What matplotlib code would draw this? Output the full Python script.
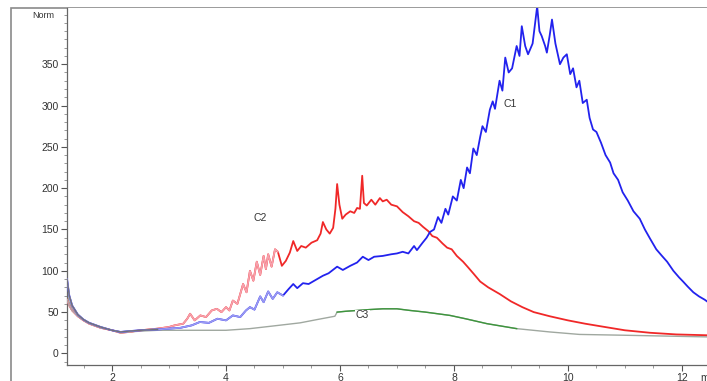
import numpy as np
import matplotlib
matplotlib.use('Agg')
import matplotlib.pyplot as plt
from matplotlib.patches import Rectangle
from matplotlib.ticker import MultipleLocator

plt.rcParams['font.family'] = ['Liberation Sans', 'DejaVu Sans']

# retention time (min) / normalised signal
c1_time = [1.21, 1.25, 1.3, 1.4, 1.5, 1.6, 1.8, 2.0, 2.15, 2.3, 2.5, 2.8, 3.0, 3.2, 3.4,
           3.54, 3.7, 3.85, 4.0, 4.12, 4.25, 4.35, 4.42, 4.5, 4.6, 4.66, 4.74, 4.82, 4.9,
           5.0, 5.1, 5.18, 5.25, 5.35, 5.45, 5.6, 5.7, 5.8, 5.95, 6.05, 6.18, 6.3, 6.4,
           6.5, 6.6, 6.75, 6.9, 7.0, 7.1, 7.2, 7.3, 7.35, 7.45, 7.52, 7.58, 7.65, 7.72,
           7.78, 7.85, 7.9, 7.98, 8.05, 8.12, 8.17, 8.23, 8.28, 8.34, 8.4, 8.46, 8.5,
           8.56, 8.63, 8.68, 8.72, 8.8, 8.85, 8.9, 8.96, 9.02, 9.1, 9.15, 9.19, 9.25,
           9.3, 9.38, 9.46, 9.5, 9.54, 9.6, 9.63, 9.68, 9.72, 9.78, 9.86, 9.92, 9.98,
           10.04, 10.09, 10.15, 10.2, 10.26, 10.33, 10.38, 10.44, 10.5, 10.58, 10.66,
           10.74, 10.8, 10.88, 10.96, 11.05, 11.15, 11.26, 11.35, 11.44, 11.55, 11.65,
           11.74, 11.85, 11.95, 12.02, 12.1, 12.2, 12.3, 12.4, 12.44]
c1_norm = [90, 70, 58, 47, 41, 37, 32, 28, 26, 27, 28, 29, 30, 31, 34,
           38, 37, 42, 40, 46, 44, 52, 56, 53, 69, 62, 75, 66, 74,
           70, 78, 84, 79, 85, 84, 90, 94, 97, 105, 101, 106, 110, 117,
           113, 117, 118, 120, 121, 123, 121, 130, 125, 134, 140, 147, 150, 165,
           158, 175, 168, 190, 185, 210, 200, 225, 218, 248, 240, 262, 275,
           268, 295, 305, 296, 330, 318, 358, 340, 345, 372, 360, 396, 372,
           362, 375, 420, 390, 384, 372, 364, 385, 404, 375, 350, 358, 362,
           338, 345, 322, 330, 303, 307, 285, 271, 268, 255, 240,
           231, 218, 210, 195, 185, 172, 163, 150, 139, 126, 118,
           111, 100, 92, 87, 81, 74, 69, 65, 63]

c2_time = [1.21, 1.25, 1.3, 1.4, 1.5, 1.6, 1.8, 2.0, 2.15, 2.3, 2.5, 2.8, 3.0, 3.1,
           3.25, 3.32, 3.37, 3.45, 3.55, 3.65, 3.75, 3.84, 3.92, 4.0, 4.06, 4.12, 4.2,
           4.25, 4.3, 4.36, 4.42, 4.48, 4.54, 4.6, 4.66, 4.7, 4.74, 4.8, 4.86, 4.91,
           4.98, 5.05, 5.12, 5.18, 5.25, 5.32, 5.4, 5.5, 5.6, 5.66, 5.7, 5.76, 5.82,
           5.88, 5.92, 5.95, 5.99, 6.04, 6.1, 6.18, 6.25, 6.3, 6.35, 6.39, 6.42, 6.47,
           6.55, 6.62, 6.7, 6.75, 6.82, 6.9, 7.0, 7.1, 7.2, 7.3, 7.38, 7.46, 7.55,
           7.62, 7.7, 7.8, 7.88, 7.96, 8.05, 8.16, 8.25, 8.35, 8.46, 8.6, 8.8, 9.0,
           9.2, 9.4, 9.68, 10.0, 10.3, 10.56, 11.0, 11.44, 11.9, 12.44]
c2_norm = [65, 58, 52, 45, 40, 36, 31, 28, 25, 26, 28, 30, 32, 34,
           36, 42, 48, 40, 46, 44, 52, 54, 50, 56, 52, 64, 60,
           72, 84, 74, 100, 88, 111, 95, 118, 102, 120, 105, 126, 123,
           106, 112, 122, 136, 124, 130, 128, 134, 137, 145, 159, 150, 145,
           152, 175, 205, 180, 163, 168, 172, 170, 176, 175, 215, 182, 179,
           186, 180, 188, 184, 186, 180, 178, 171, 166, 160, 158, 153, 148,
           142, 140, 133, 128, 126, 118, 111, 104, 96, 87, 80, 72, 63,
           56, 50, 45, 40, 36, 33, 28, 25, 23, 22]

c3_time = [1.21, 1.25, 1.3, 1.4, 1.5, 1.6, 1.8, 2.0, 2.15, 2.3, 2.5, 2.8, 3.0, 3.5,
           4.0, 4.42, 4.8, 5.3, 5.6, 5.91, 5.95, 6.1, 6.3, 6.5, 6.75, 7.0, 7.23, 7.5,
           7.93, 8.2, 8.58, 9.1, 9.68, 10.2, 11.0, 12.44]
c3_norm = [72, 62, 54, 45, 40, 36, 31, 28, 26, 26, 27, 28, 28, 28,
           28, 30, 33, 37, 41, 45, 50, 51, 52, 53, 54, 54, 52, 50,
           46, 42, 36, 30, 26, 23, 22, 20]

peak_labels = ['C1', 'C2', 'C3']
label_time = [8.98, 4.6, 6.39]
label_norm = [302, 164, 46]

W, H = 707, 381
fig = plt.figure(figsize=(W / 100, H / 100), dpi=100)
fig.add_artist(Rectangle((11 / W, -0.2), 1.2, 1.2 - 8 / H, transform=fig.transFigure,
                         fill=False, edgecolor='#8a8a8a', lw=1.2, zorder=0))
ax = fig.add_axes([67 / W, 16 / H, 1 - 67 / W, 1 - 24 / H])


def seg(t, v, lo, hi):
    t = np.asarray(t)
    v = np.asarray(v)
    m = (t >= lo) & (t <= hi)
    return t[m], v[m]


# C3: grey trace, green in the middle
ax.plot(c3_time, c3_norm, color='#a0a8a0', lw=1.0, zorder=2)
ax.plot(*seg(c3_time, c3_norm, 5.95, 9.1), color='#3c963c', lw=1.0, zorder=2)
# C2: grey -> pink -> red
ax.plot(c2_time, c2_norm, color='#f02828', lw=1.3, zorder=3)
ax.plot(*seg(c2_time, c2_norm, 0, 4.91), color='#f7a0ac', lw=1.2, zorder=3)
ax.plot(*seg(c2_time, c2_norm, 0, 2.9), color='#b0a0a4', lw=1.0, zorder=3)
# C1: grey -> light blue -> blue
ax.plot(c1_time, c1_norm, color='#2222ee', lw=1.3, zorder=4)
ax.plot(*seg(c1_time, c1_norm, 0, 5.0), color='#9a9af2', lw=1.2, zorder=4)
ax.plot(*seg(c1_time, c1_norm, 0, 2.9), color='#707078', lw=1.0, zorder=4)

for name, t, v in zip(peak_labels, label_time, label_norm):
    kw = {}
    if name == 'C3':
        kw['bbox'] = dict(facecolor='white', edgecolor='none', pad=0.5)
    ax.text(t, v, name, fontsize=7.5, color='#333333', ha='center', va='center', zorder=6, **kw)

ax.set_xlim(1.21, 12.44)
ax.set_ylim(-14, 418)
ax.xaxis.set_major_locator(MultipleLocator(2))
ax.xaxis.set_minor_locator(MultipleLocator(0.5))
ax.yaxis.set_minor_locator(MultipleLocator(10))
ax.set_yticks([0, 50, 100, 150, 200, 250, 300, 350])
ax.tick_params(axis='both', which='major', labelsize=7.5, colors='#555555', labelcolor='#333333',
               length=4, width=0.8, pad=2)
ax.tick_params(axis='both', which='minor', colors='#888888', length=2.5, width=0.6)
for s in ['top', 'right']:
    ax.spines[s].set_visible(False)
for s in ['left', 'bottom']:
    ax.spines[s].set_color('#666666')
    ax.spines[s].set_linewidth(0.9)

fig.text(43 / W, 1 - 15 / H, 'Norm', fontsize=6.5, color='#333333', ha='center', va='center')
fig.text(700 / W, 16 / H - 0.035, 'min', fontsize=7.5, color='#333333', ha='left', va='center')

fig.savefig('out.png', dpi=100)
